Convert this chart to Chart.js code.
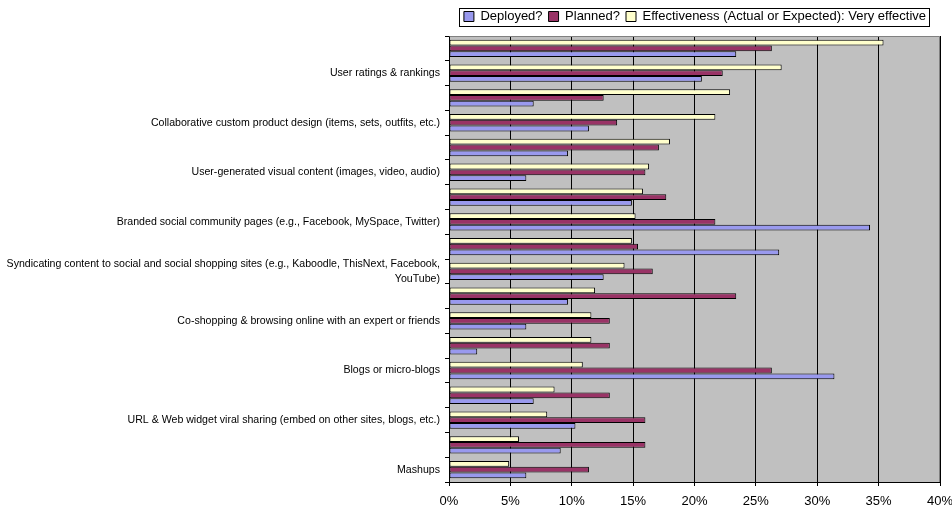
<!DOCTYPE html>
<html>
<head>
<meta charset="utf-8">
<title>Social commerce features</title>
<script src="https://cdn.jsdelivr.net/npm/chart.js@4.4.1/dist/chart.umd.min.js"></script>
<style>
  html, body { margin: 0; padding: 0; background: #fff; }
  #wrap { width: 952px; height: 510px; }
</style>
</head>
<body>
<div id="wrap"><canvas id="myChart" width="952" height="510"></canvas></div>
<script>
// categories, top to bottom (only every other one is labelled in the original)
var categories = [
  '',
  'User ratings & rankings',
  '',
  'Collaborative custom product design (items, sets, outfits, etc.)',
  '',
  'User-generated visual content (images, video, audio)',
  '',
  'Branded social community pages (e.g., Facebook, MySpace, Twitter)',
  '',
  ['Syndicating content to social and social shopping sites (e.g., Kaboodle, ThisNext, Facebook,', 'YouTube)'],
  '',
  'Co-shopping & browsing online with an expert or friends',
  '',
  'Blogs or micro-blogs',
  '',
  'URL & Web widget viral sharing (embed on other sites, blogs, etc.)',
  '',
  'Mashups'
];

// values in %
var deployed      = [23.4, 20.6, 6.9, 11.4, 9.7, 6.3, 14.9, 34.3, 26.9, 12.6, 9.7, 6.3, 2.3, 31.4, 6.9, 10.3, 9.1, 6.3];
var planned       = [26.3, 22.3, 12.6, 13.7, 17.1, 16.0, 17.7, 21.7, 15.4, 16.6, 23.4, 13.1, 13.1, 26.3, 13.1, 16.0, 16.0, 11.4];
var effectiveness = [35.4, 27.1, 22.9, 21.7, 18.0, 16.3, 15.8, 15.2, 14.9, 14.3, 11.9, 11.6, 11.6, 10.9, 8.6, 8.0, 5.7, 4.9];

var xTicks = [0, 5, 10, 15, 20, 25, 30, 35, 40];

var FONT = "'Liberation Sans', Arial, sans-serif";
var LEGEND_PAD = 6;

// grey plot area, legend frame, plot border
var excelLook = {
  id: 'excelLook',
  beforeDraw: function (chart) {
    var a = chart.chartArea, ctx = chart.ctx;
    ctx.save();
    ctx.fillStyle = '#c0c0c0';
    ctx.fillRect(a.left, a.top, a.right - a.left, a.bottom - a.top);
    ctx.restore();
    // nudge legend up a bit and in from the right edge
    var lg = chart.legend;
    if (lg && !lg._nudged) {
      lg.top -= 3;
      lg.bottom -= 3;
      lg.right -= 20;
      lg._nudged = true;
    }
  },
  afterDatasetsDraw: function (chart) {
    var a = chart.chartArea, ctx = chart.ctx;
    ctx.save();
    ctx.strokeStyle = '#808080';
    ctx.lineWidth = 1;
    ctx.beginPath();
    ctx.moveTo(Math.round(a.left) + 0.5, Math.round(a.top) + 0.5);
    ctx.lineTo(Math.round(a.right) - 0.5, Math.round(a.top) + 0.5);
    ctx.lineTo(Math.round(a.right) - 0.5, Math.round(a.bottom));
    ctx.stroke();
    ctx.restore();
  },
  afterDraw: function (chart) {
    var lg = chart.legend;
    if (!lg || !lg.lineWidths) return;
    var right = lg.right - LEGEND_PAD;
    var left = lg.right - lg.lineWidths[0];
    var cy = lg.top + LEGEND_PAD + 6.5;
    var ctx = chart.ctx;
    ctx.save();
    ctx.strokeStyle = '#000';
    ctx.lineWidth = 1;
    ctx.strokeRect(Math.round(left - 5) + 0.5, Math.round(cy - 9) + 0.5, Math.round(right - left + 8), 18);
    ctx.restore();
  }
};

var ctx = document.getElementById('myChart').getContext('2d');
var myChart = new Chart(ctx, {
  type: 'bar',
  data: {
    labels: categories,
    datasets: [
      { label: 'Effectiveness (Actual or Expected): Very effective', data: effectiveness, backgroundColor: '#ffffcc' },
      { label: 'Planned?', data: planned, backgroundColor: '#993366' },
      { label: 'Deployed?', data: deployed, backgroundColor: '#9999ee' }
    ]
  },
  options: {
    indexAxis: 'y',
    responsive: false,
    animation: false,
    layout: { padding: { top: 7, left: 0, right: 0, bottom: 0 } },
    datasets: {
      bar: {
        borderColor: '#000',
        borderWidth: 1,
        borderSkipped: false,
        categoryPercentage: 0.7,
        barPercentage: 1.0
      }
    },
    plugins: {
      legend: {
        position: 'top',
        align: 'end',
        reverse: true,
        labels: {
          boxWidth: 10,
          boxHeight: 10,
          padding: LEGEND_PAD,
          color: '#000',
          font: { family: FONT, size: 13 }
        }
      },
      tooltip: { enabled: false }
    },
    scales: {
      x: {
        min: 0,
        max: 40,
        afterBuildTicks: function (scale) {
          scale.ticks = xTicks.map(function (v) { return { value: v }; });
        },
        ticks: {
          color: '#000',
          padding: 8,
          maxRotation: 0,
          font: { family: FONT, size: 13 },
          callback: function (v) { return v + '%'; }
        },
        grid: { color: '#000', lineWidth: 1, tickLength: 4 },
        border: { color: '#000' },
        afterFit: function (scale) {
          scale.height = 28;
          scale.paddingLeft = 0;
          scale.paddingRight = 12;
        }
      },
      y: {
        ticks: {
          autoSkip: false,
          color: '#000',
          padding: 5,
          font: { family: FONT, size: 10.6, lineHeight: 1.4 }
        },
        grid: { drawOnChartArea: false, color: '#000', tickLength: 4 },
        border: { color: '#000' },
        afterFit: function (scale) {
          scale.width = 449;
          scale.paddingTop = 0;
          scale.paddingBottom = 0;
        }
      }
    }
  },
  plugins: [excelLook]
});
</script>
</body>
</html>
